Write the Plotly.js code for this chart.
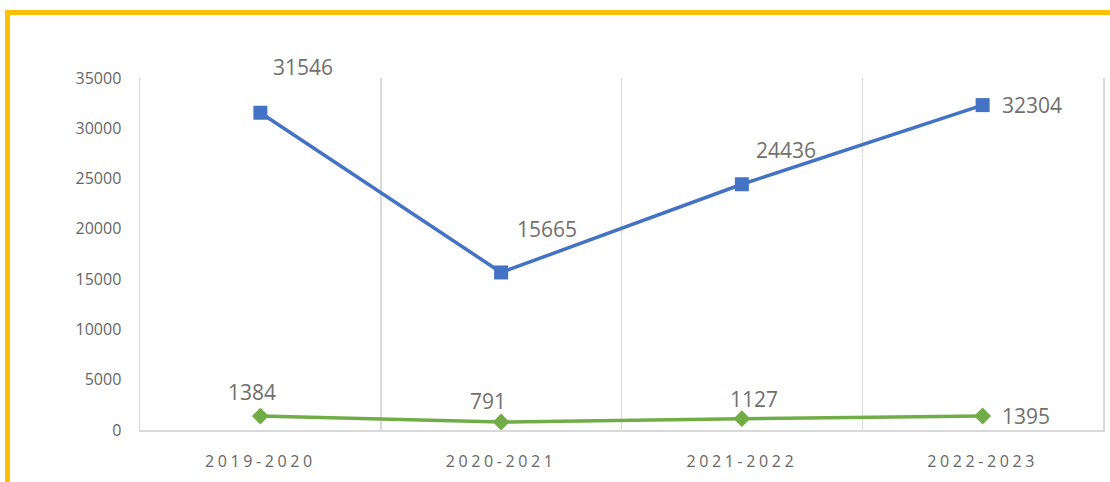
<!DOCTYPE html>
<html>
<head>
<meta charset="utf-8">
<script src="https://cdn.plot.ly/plotly-3.0.1.min.js"></script>
<style>
  html, body { margin: 0; padding: 0; background: #ffffff; }
  #wrap { position: relative; width: 1110px; height: 482px; overflow: hidden; }
  #chart { position: absolute; left: 0; top: 0; width: 1110px; height: 482px; }
  #frame { position: absolute; left: 5px; top: 10px; width: 1110px; height: 480px;
           border-top: 5px solid #FFC000; border-left: 5px solid #FFC000; pointer-events: none; }
  .xtick text { letter-spacing: 3.6px; }
</style>
</head>
<body>
<div id="wrap">
  <div id="chart"></div>
  <div id="frame"></div>
</div>
<script>
// ---- data ----
const categories = ["2019-2020", "2020-2021", "2021-2022", "2022-2023"];
const seriesBlue = [31546, 15665, 24436, 32304];
const seriesGreen = [1384, 791, 1127, 1395];
const yTickVals = [0, 5000, 10000, 15000, 20000, 25000, 30000, 35000];

// ---- label offsets (style only) ----
const blueOffsets = [
  {xs: 43, ys: 46, anchor: "center"},
  {xs: 46, ys: 43, anchor: "center"},
  {xs: 44, ys: 34, anchor: "center"},
  {xs: 17, ys: 0, anchor: "left"}
];
const greenOffsets = [
  {xs: -8, ys: 24, anchor: "center"},
  {xs: -13, ys: 21, anchor: "center"},
  {xs: 12, ys: 20, anchor: "center"},
  {xs: 17, ys: 0, anchor: "left"}
];

const labelFont = {family: "Open Sans, sans-serif", size: 21, color: "#707070"};

function makeAnnotations(values, offsets) {
  return values.map((v, i) => ({
    x: categories[i], y: v, xref: "x", yref: "y",
    text: String(v), showarrow: false,
    xshift: offsets[i].xs, yshift: offsets[i].ys,
    xanchor: offsets[i].anchor, yanchor: "middle",
    font: labelFont
  }));
}

const traces = [
  {
    x: categories, y: seriesBlue, type: "scatter", mode: "lines+markers",
    line: {color: "#4472C4", width: 3.5},
    marker: {symbol: "square", size: 14, color: "#4472C4"},
    hoverinfo: "skip"
  },
  {
    x: categories, y: seriesGreen, type: "scatter", mode: "lines+markers",
    line: {color: "#70AD47", width: 3.5},
    marker: {symbol: "diamond", size: 13, color: "#70AD47"},
    hoverinfo: "skip"
  }
];

const layout = {
  width: 1110, height: 482,
  margin: {l: 140, r: 7, t: 78, b: 52},
  paper_bgcolor: "#ffffff", plot_bgcolor: "#ffffff",
  showlegend: false,
  xaxis: {
    type: "category",
    range: [-0.5, 3.5],
    tickson: "boundaries",
    showgrid: true, gridcolor: "#d9d9d9", gridwidth: 1.5,
    showline: true, linecolor: "#d9d9d9", linewidth: 1.5,
    ticks: "", ticklabelstandoff: 16,
    tickfont: {family: "Open Sans, sans-serif", size: 16, color: "#666666"},
    zeroline: false, fixedrange: true
  },
  yaxis: {
    range: [0, 35000],
    tickvals: yTickVals,
    ticktext: yTickVals.map(String),
    showgrid: false, zeroline: false,
    showline: true, linecolor: "#d9d9d9", linewidth: 1.5, mirror: true,
    ticks: "", ticklabelstandoff: 14,
    tickfont: {family: "Open Sans, sans-serif", size: 16, color: "#666666"},
    fixedrange: true
  },
  annotations: makeAnnotations(seriesBlue, blueOffsets).concat(makeAnnotations(seriesGreen, greenOffsets))
};

Plotly.newPlot("chart", traces, layout, {displayModeBar: false, staticPlot: true});
</script>
</body>
</html>
